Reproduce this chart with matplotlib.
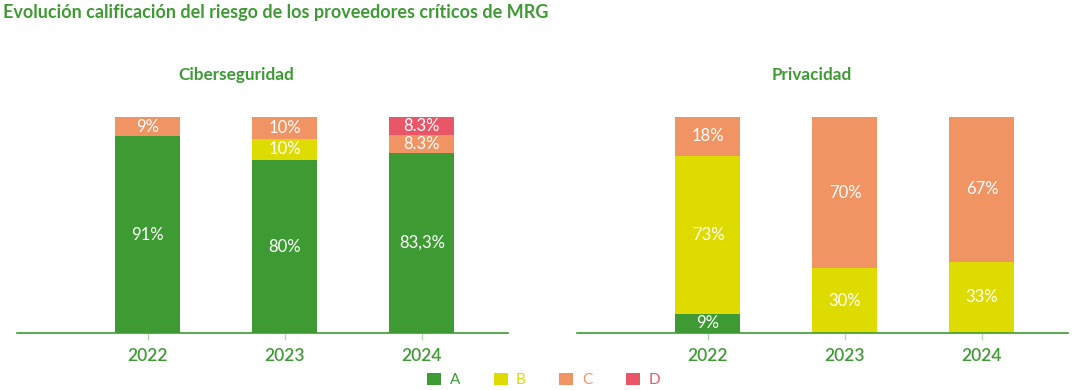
import matplotlib.pyplot as plt
from matplotlib.patches import Patch
import numpy as np

# data
years = ["2022", "2023", "2024"]
grades = ["A", "B", "C", "D"]

ciber_values = {
    "A": [91, 80, 83.3],
    "B": [0, 10, 0],
    "C": [9, 10, 8.3],
    "D": [0, 0, 8.3],
}
ciber_labels = {
    "A": ["91%", "80%", "83,3%"],
    "B": ["", "10%", ""],
    "C": ["9%", "10%", "8.3%"],
    "D": ["", "", "8.3%"],
}

priv_values = {
    "A": [9, 0, 0],
    "B": [73, 30, 33],
    "C": [18, 70, 67],
    "D": [0, 0, 0],
}
priv_labels = {
    "A": ["9%", "", ""],
    "B": ["73%", "30%", "33%"],
    "C": ["18%", "70%", "67%"],
    "D": ["", "", ""],
}

colors = {"A": "#3e9b34", "B": "#dedb00", "C": "#f19463", "D": "#e85668"}
GREEN = "#3e9b34"
FONT = ["Lato", "DejaVu Sans"]

plt.rcParams["font.family"] = FONT


def stacked(ax, values, labels):
    x = np.arange(len(years))
    bottom = np.zeros(len(years))
    for g in grades:
        vals = np.array(values[g], dtype=float)
        ax.bar(x, vals, bottom=bottom, width=0.474, color=colors[g],
               edgecolor="none", zorder=2)
        for i, v in enumerate(vals):
            if v > 0 and labels[g][i]:
                ax.text(x[i], bottom[i] + v / 2, labels[g][i], ha="center",
                        va="center", color="white", fontsize=12, zorder=3)
        bottom += vals
    ax.set_xlim(-0.956, 2.628)
    ax.set_ylim(0, 100)
    ax.set_xticks(x)
    ax.set_xticklabels(years, color=GREEN, fontsize=12.5, fontweight="semibold")
    ax.tick_params(axis="x", length=5, width=1, color="#b5dbb0", pad=6)
    ax.set_yticks([])
    for s in ["left", "right", "top"]:
        ax.spines[s].set_visible(False)
    ax.spines["bottom"].set_color(GREEN)
    ax.spines["bottom"].set_linewidth(1.2)


fig = plt.figure(figsize=(10.87, 3.9), dpi=100)
ax1 = fig.add_axes([0.0156, 0.1462, 0.4517, 0.5538])
ax2 = fig.add_axes([0.5308, 0.1462, 0.4517, 0.5538])

stacked(ax1, ciber_values, ciber_labels)
stacked(ax2, priv_values, priv_labels)

fig.text(0.003, 0.968, "Evolución calificación del riesgo de los proveedores críticos de MRG",
         color=GREEN, fontsize=13.0, fontweight="bold", ha="left", va="center")
fig.text(236 / 1087, 1 - 75 / 390, "Ciberseguridad", color=GREEN, fontsize=12.3,
         fontweight="bold", ha="center", va="center")
fig.text(812 / 1087, 1 - 75 / 390, "Privacidad", color=GREEN, fontsize=12.3,
         fontweight="bold", ha="center", va="center")

handles = [Patch(facecolor=colors[g], edgecolor="none", label=g) for g in grades]
leg = fig.legend(handles=handles, loc="center", bbox_to_anchor=(0.5, 0.026),
                 ncol=4, frameon=False, fontsize=11, handlelength=0.92,
                 handleheight=0.92, handletextpad=0.55, columnspacing=2.2)
for t, g in zip(leg.get_texts(), grades):
    t.set_color(colors[g])

fig.savefig("out.png", dpi=100)
